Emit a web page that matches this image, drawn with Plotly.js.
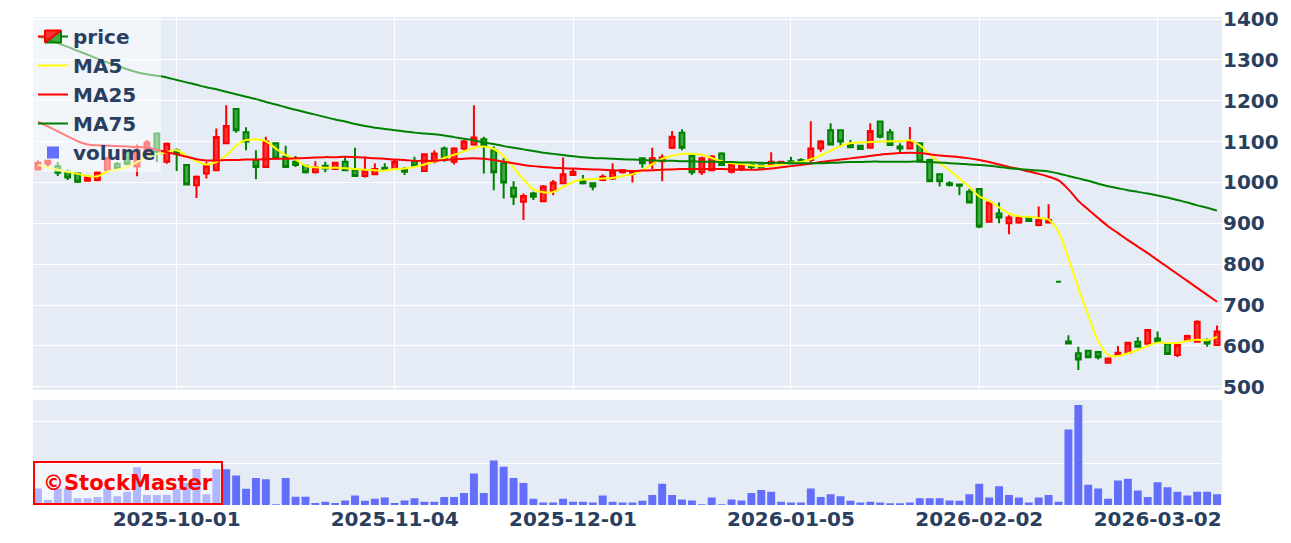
<!DOCTYPE html>
<html>
<head>
<meta charset="utf-8">
<script src="https://cdn.plot.ly/plotly-3.0.1.min.js"></script>
<style>html,body{margin:0;padding:0;background:#fff;}#chart{width:1291px;height:543px;}</style>
</head>
<body>
<div id="chart"></div>
<script>
const dates = [
'2025-09-09','2025-09-10','2025-09-11','2025-09-12','2025-09-16','2025-09-17','2025-09-18','2025-09-19','2025-09-22','2025-09-24','2025-09-25','2025-09-26','2025-09-29','2025-09-30',
'2025-10-01','2025-10-02','2025-10-03','2025-10-06','2025-10-07','2025-10-08','2025-10-09','2025-10-10','2025-10-14','2025-10-15','2025-10-16','2025-10-17','2025-10-20','2025-10-21','2025-10-22','2025-10-23','2025-10-24','2025-10-27','2025-10-28','2025-10-29','2025-10-30','2025-10-31',
'2025-11-04','2025-11-05','2025-11-06','2025-11-07','2025-11-10','2025-11-11','2025-11-12','2025-11-13','2025-11-14','2025-11-17','2025-11-18','2025-11-19','2025-11-20','2025-11-21','2025-11-25','2025-11-26','2025-11-27','2025-11-28',
'2025-12-01','2025-12-02','2025-12-03','2025-12-04','2025-12-05','2025-12-08','2025-12-09','2025-12-10','2025-12-11','2025-12-12','2025-12-15','2025-12-16','2025-12-17','2025-12-18','2025-12-19','2025-12-22','2025-12-23','2025-12-24','2025-12-25','2025-12-26','2025-12-29','2025-12-30',
'2026-01-05','2026-01-06','2026-01-07','2026-01-08','2026-01-09','2026-01-13','2026-01-14','2026-01-15','2026-01-16','2026-01-19','2026-01-20','2026-01-21','2026-01-22','2026-01-23','2026-01-26','2026-01-27','2026-01-28','2026-01-29','2026-01-30',
'2026-02-02','2026-02-03','2026-02-04','2026-02-05','2026-02-06','2026-02-09','2026-02-10','2026-02-12','2026-02-13','2026-02-16','2026-02-17','2026-02-18','2026-02-19','2026-02-20','2026-02-24','2026-02-25','2026-02-26','2026-02-27',
'2026-03-02','2026-03-03','2026-03-04','2026-03-05','2026-03-06','2026-03-09','2026-03-10'
];

const openP = [
1032,1046,1040,1026,1022,1004,1006,1030,1045,1077,1039,1075,1120,1051,
1078,1043,993,1022,1030,1096,1180,1123,1055,1038,1096,1063,1051,1041,1025,1041,1033,1051,1030,1016,1020,1036,
1033,1033,1052,1028,1052,1083,1051,1083,1093,1106,1079,1047,987,953,973,954,979,998,
1018,1003,998,1006,1010,1025,1021,1059,1047,1052,1085,1122,1065,1025,1030,1071,1026,1033,1043,1042,1044,1047,
1052,1055,1055,1083,1128,1128,1092,1090,1085,1149,1123,1088,1083,1096,1055,1020,998,995,977,
984,904,924,900,902,915,896,902,757,611,582,588,585,559,577,583,610,605,
618,605,578,613,610,613,602
];
const highP = [
1054,1055,1050,1032,1024,1016,1028,1063,1050,1080,1093,1104,1122,1098,
1083,1045,1017,1051,1132,1189,1182,1135,1079,1112,1098,1090,1065,1043,1052,1051,1051,1063,1085,1063,1047,1047,
1055,1038,1063,1071,1079,1088,1086,1104,1189,1112,1088,1059,1003,973,977,994,1006,1061,
1033,1018,1000,1020,1047,1032,1030,1060,1085,1069,1126,1130,1068,1063,1067,1074,1047,1047,1047,1044,1074,1052,
1063,1059,1150,1104,1145,1130,1104,1092,1145,1150,1131,1096,1136,1098,1058,1022,1003,997,984,
985,954,951,920,916,916,941,947,757,626,598,590,587,571,600,610,622,641,
635,606,604,627,663,618,650
];
const lowP = [
1030,1038,1016,1006,999,1002,1003,1027,1030,1042,1015,1072,1050,1046,
1028,993,962,1010,1028,1094,1122,1079,1008,1036,1056,1036,1038,1022,1022,1025,1031,1029,1015,1012,1018,1030,
1031,1018,1040,1026,1047,1051,1044,1079,1090,1022,981,961,945,908,957,952,969,996,
1017,995,981,1004,1006,1022,1000,1036,1033,1003,1082,1079,1018,1018,1028,1041,1022,1028,1033,1034,1043,1045,
1045,1047,1047,1075,1092,1090,1084,1080,1083,1108,1089,1074,1082,1051,1001,990,990,969,949,
888,902,900,873,899,904,893,901,757,605,541,570,567,557,575,581,596,603,
607,578,573,611,608,598,600
];
const closeP = [
1048,1053,1024,1012,1002,1012,1025,1060,1035,1046,1080,1098,1076,1095,
1070,995,1014,1040,1111,1138,1128,1100,1038,1100,1059,1038,1043,1025,1038,1034,1048,1030,1016,1028,1033,1031,
1051,1026,1041,1069,1071,1055,1083,1100,1110,1092,1025,1000,965,967,965,990,1000,1020,
1026,998,990,1014,1026,1030,1028,1047,1059,1061,1112,1085,1025,1059,1063,1043,1044,1043,1038,1036,1051,1051,
1047,1049,1083,1100,1093,1100,1086,1082,1126,1112,1092,1083,1100,1052,1003,1003,994,992,951,
892,951,914,914,915,906,908,908,757,606,567,572,572,569,583,608,598,639,
610,580,602,624,659,606,635
];
const volume = [
400000,120000,400000,400000,160000,160000,190000,400000,210000,320000,910000,240000,240000,240000,
390000,530000,870000,260000,860000,860000,710000,390000,650000,620000,20000,650000,200000,200000,50000,80000,50000,110000,230000,100000,150000,180000,
50000,110000,160000,80000,80000,190000,190000,290000,760000,290000,1070000,920000,650000,530000,150000,60000,60000,150000,
80000,80000,60000,230000,80000,60000,60000,100000,240000,510000,240000,130000,110000,20000,180000,20000,130000,110000,290000,360000,320000,80000,
60000,60000,400000,190000,260000,210000,100000,60000,80000,60000,40000,40000,60000,160000,160000,160000,110000,100000,260000,
510000,180000,450000,240000,180000,60000,180000,240000,80000,1820000,2410000,490000,400000,150000,590000,630000,350000,190000,
550000,430000,320000,230000,320000,320000,260000
];
const ma5 = [
1043,1037,1031,1026,1021,1016,1015,1027,1031,1038,1050,1063,1070,1074,
1079,1065,1052,1044,1050,1066,1090,1104,1105,1101,1083,1067,1056,1041,1037,1036,1036,1035,1033,1031,1030,1029,
1033,1034,1038,1044,1052,1060,1068,1076,1085,1088,1082,1065,1036,1008,983,976,977,989,
1001,1007,1008,1010,1011,1016,1020,1030,1045,1058,1065,1070,1070,1068,1060,1052,1047,1045,1042,1040,1041,1044,
1048,1050,1057,1066,1078,1089,1096,1098,1099,1100,1101,1101,1103,1091,1069,1048,1030,1010,989,
966,955,939,924,917,916,913,909,879,814,742,675,612,578,575,582,590,600,
608,607,607,612,615,614,622
];
const ma25 = [
1149,1137,1125,1113,1101,1093,1091,1090,1089,1088,1087,1085,1080,1074,
1069,1063,1057,1054,1054,1055,1055,1056,1056,1057,1058,1058,1059,1060,1061,1062,1062,1063,1062,1061,1059,1058,
1056,1055,1053,1053,1053,1055,1057,1058,1059,1058,1055,1051,1047,1043,1040,1038,1036,1035,
1034,1033,1032,1031,1030,1029,1028,1029,1030,1031,1032,1033,1033,1033,1033,1033,1032,1031,1031,1032,1034,1037,
1040,1043,1046,1050,1053,1056,1059,1062,1065,1068,1070,1072,1073,1072,1069,1066,1064,1062,1059,
1055,1050,1044,1038,1033,1027,1021,1014,1005,983,955,934,913,893,876,859,843,827,
810,793,776,759,742,725,708
];
const ma75 = [
1358,1350,1341,1332,1322,1313,1303,1294,1286,1277,1270,1265,1261,1257,
1251,1245,1239,1233,1228,1222,1216,1210,1204,1197,1191,1184,1178,1172,1166,1160,1154,1149,1143,1138,1134,1131,
1128,1125,1122,1120,1118,1115,1111,1107,1103,1098,1094,1089,1085,1081,1077,1073,1070,1067,
1064,1062,1060,1059,1058,1057,1056,1055,1054,1053,1053,1052,1052,1051,1051,1050,1050,1049,1049,1048,1048,1048,
1047,1047,1047,1047,1048,1049,1050,1050,1051,1051,1051,1051,1051,1051,1050,1049,1047,1046,1044,
1043,1041,1038,1035,1033,1031,1029,1027,1022,1016,1010,1004,997,991,986,981,977,973,
968,963,957,951,944,938,931
];
const tickDates = ['2025-10-01','2025-11-04','2025-12-01','2026-01-05','2026-02-02','2026-03-02'];

const FONT = 'DejaVu Sans, Verdana, sans-serif';
const DARK = '#2a3f5f';

const traces = [
  {type:'candlestick', name:'price', x:dates, open:openP, high:highP, low:lowP, close:closeP,
   xaxis:'x', yaxis:'y',
   increasing:{line:{color:'red', width:2}, fillcolor:'rgba(255,0,0,0.78)'},
   decreasing:{line:{color:'green', width:2}, fillcolor:'rgba(0,140,0,0.72)'}},
  {type:'scatter', mode:'lines', name:'MA5', x:dates, y:ma5, xaxis:'x', yaxis:'y',
   line:{color:'yellow', width:2, shape:'spline'}},
  {type:'scatter', mode:'lines', name:'MA25', x:dates, y:ma25, xaxis:'x', yaxis:'y',
   line:{color:'red', width:2, shape:'spline'}},
  {type:'scatter', mode:'lines', name:'MA75', x:dates, y:ma75, xaxis:'x', yaxis:'y',
   line:{color:'green', width:2, shape:'spline'}},
  {type:'bar', name:'volume', x:dates, y:volume, xaxis:'x2', yaxis:'y2',
   marker:{color:'#636efa'}}
];

const layout = {
  width:1291, height:543,
  margin:{l:33, r:69, t:17, b:38},
  paper_bgcolor:'#ffffff', plot_bgcolor:'#E5ECF6',
  font:{family:FONT, color:DARK},
  showlegend:true,
  legend:{x:0, y:1, xanchor:'left', yanchor:'top', bgcolor:'rgba(255,255,255,0.5)',
          font:{family:FONT, size:20, weight:'bold', color:DARK}},
  bargap:0.2,
  xaxis:{type:'category', domain:[0,1], anchor:'y', range:[-0.5,119.5],
         rangeslider:{visible:false}, showticklabels:false,
         tickmode:'array', tickvals:tickDates, ticktext:tickDates,
         showgrid:true, gridcolor:'#ffffff', gridwidth:1, zeroline:false},
  xaxis2:{type:'category', domain:[0,1], anchor:'y2', range:[-0.5,119.5], matches:'x',
          tickmode:'array', tickvals:tickDates, ticktext:tickDates, showgrid:false,
          tickfont:{family:FONT, size:20, weight:'bold', color:DARK}},
  yaxis:{domain:[0.2356,1], anchor:'x', side:'right', range:[492,1405], dtick:100, tick0:0,
         gridcolor:'#ffffff', zeroline:false,
         tickfont:{family:FONT, size:20, weight:'bold', color:DARK}},
  yaxis2:{domain:[0,0.2156], anchor:'x2', side:'right', range:[0,2535000], dtick:1000000,
          showticklabels:false, gridcolor:'#ffffff', zeroline:true, zerolinecolor:'#ffffff'},
  annotations:[{text:'©StockMaster', xref:'paper', yref:'paper', x:0, y:0,
                xanchor:'left', yanchor:'bottom', showarrow:false,
                font:{family:FONT, size:21, weight:'bold', color:'red'},
                bordercolor:'red', borderwidth:2, borderpad:8, bgcolor:'rgba(255,255,255,0.5)'}]
};

Plotly.newPlot('chart', traces, layout, {displayModeBar:false, staticPlot:true});
</script>
</body>
</html>
